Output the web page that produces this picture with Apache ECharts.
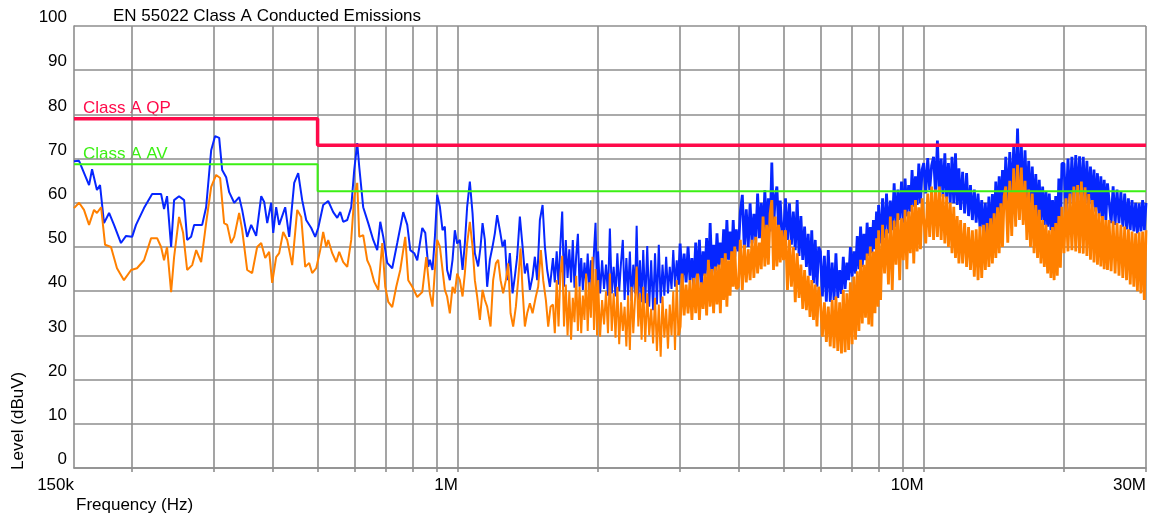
<!DOCTYPE html>
<html>
<head>
<meta charset="utf-8">
<script src="https://cdn.jsdelivr.net/npm/echarts@6/dist/echarts.min.js"></script>
<style>html,body{margin:0;padding:0;background:#fff}#c{width:1154px;height:519px}</style>
</head>
<body>
<div id="c"></div>
<script>
// ---------- text ----------
const titleText = 'EN 55022 Class A Conducted Emissions';
const xAxisName = 'Frequency (Hz)';
const yAxisName = 'Level (dBuV)';

// ---------- axes ----------
const tickLabels = ['150k', '1M', '10M', '30M'];
const tickLabelKHz = [150, 1000, 10000, 30000];
const gridKHz = [200, 300, 400, 500, 600, 700, 800, 900, 1000, 2000, 3000, 4000, 5000, 6000, 7000, 8000, 9000, 10000, 20000, 30000];

// ---------- limit lines ----------
const limitKHz = [150, 500, 500, 30000];
const qpLimit = [79, 79, 73, 73];
const avLimit = [68.7, 68.7, 62.6, 62.6];

// ---------- peak (blue) trace, 150 kHz - 1.58 MHz ----------
const lowPkKHz = [150,153.8,156,161.6,164,168,170.6,174,178.4,182.8,189.2,194,199.9,203.8,212,220.7,230.7,234.1,237.6,242.4,246,252.1,258.5,262.4,267.6,271.6,282.6,288.2,295.5,301.3,307.4,312,318.2,323,331.1,339.3,344.4,353,360.1,369.1,378.4,384,389.8,397.5,401.5,407.4,413.5,419.7,426,434.5,445.4,454.3,463.3,472.6,484.5,494.1,501.5,514,526.9,540.1,551,559.2,567.5,578.9,590.4,599.2,608.2,614.3,626.4,642.2,658.3,671.4,681.5,691.7,705.4,723.1,741.2,763.6,778.8,790.5,806.2,818.2,838.8,851.3,864.1,
870.9,882.3,892.8,902.9,915.1,927.1,937.7,948.4,961.2,974.1,985.3,996.5,1009.9,1023.5,1035.2,1047.1,1061.1,1075.4,1087.7,1105.6,1118.8,1129.9,1142.8,1155.9,1171.4,1187.1,1200.7,1214.4,1230.8,1247.3,1261.6,1276,1293.2,1310.6,1325.5,1340.7,1358.7,1377,1392.7,1408.6,1427.6,1446.8,1463.3,1480.1,1500,1520.2,1537.6,1555.2,1576.1];
const lowPkLevel = [69.4,69.5,67.9,64,67.6,62.9,64,55.4,57.7,55,50.9,52.5,52.3,55,58.8,62,62,58.6,61.5,50,60.6,61.5,60.6,51.6,52.3,55,55,59,71.9,75.1,74.7,67.4,65.8,62.4,60,61.3,58.4,52.3,55,52.5,61.5,60.2,55.4,60,53.2,59,55,57,59,52.3,64.5,66.7,60.6,56.1,54.3,52.3,54.3,59.5,60.4,57.9,56.6,57.9,55.7,56.1,59,67.4,73.5,68.1,59,55.4,51.6,49.3,55.7,52.3,46.4,45.2,50.9,57.9,55,49.3,48.6,47,54.3,53.2,45.5,
47.1,44.8,52.3,61.8,59.1,53.8,54.6,44.8,42.5,47.1,53.8,50.8,51.6,44.8,50.8,59.1,64.8,57.6,48.6,45.6,50.1,55.4,51.6,41.0,47.1,50.1,53.1,57.2,53.8,50.1,51.6,42.5,48.6,39.5,43.3,47.8,56.9,50.1,44.0,46.3,40.3,43.3,47.8,42.5,56.1,59.5,50.1,44.8,41.0];

// ---------- average (orange) trace, 150 kHz - 1.58 MHz ----------
const lowAvKHz = [150,153.8,157.6,161.6,165.6,168,171.5,174.9,180.1,185.5,192,198.9,204.8,212,219.6,226.2,230.7,234.1,237.6,242.4,246,252.1,257.2,262.4,269,274.4,281.2,288.2,295.5,302.8,308.9,315,319.8,326.1,331.1,339.3,344.4,353,361.8,370.9,378.4,385.9,393.6,399.5,407.4,413.5,421.8,430.2,441,452.1,461.1,470.3,479.7,486.8,496.6,506.5,514,521.8,526.9,537.5,548.2,556.4,567.5,578.9,590.4,599.2,608.2,614.3,626.4,639,648.6,661.5,674.8,688.3,698.5,708.9,723.1,737.6,752.3,771.1,782.6,798.3,818.2,838.8,855.5,
870.9,882.3,892.8,902.9,915.1,927.1,937.7,948.4,961.2,974.1,985.3,996.5,1009.9,1023.5,1035.2,1047.1,1061.1,1075.4,1087.7,1100.2,1115,1129.9,1142.8,1155.9,1175.5,1190.6,1206.7,1220.5,1235.1,1251,1267.9,1282.5,1297.7,1314.5,1332.1,1347.3,1363.4,1377,1392.7,1408.6,1427.6,1446.8,1470.6,1487.4,1507.5,1524.7,1545.3,1563,1581.6];
const lowAvLevel = [58.8,60,58.4,55,58.4,57.7,59,50.5,50,45.2,42.5,44.8,45.2,47,52,52,50,47,50,39.8,47.7,56.8,53.2,44.8,45.9,49.3,46.6,55.4,63.6,66.3,65.6,55.4,55,50.9,52.3,57.7,53.9,44.8,44.1,50,50.9,47.5,48.9,41.9,47.7,48.6,53.4,51.6,45.9,58.4,56.8,45.5,46.4,44.1,45.2,49.3,53.4,50,51.6,48.6,46.6,48.9,46.6,45.5,51.6,61.3,64.5,52.3,52.7,47,45.5,42.1,40.3,50.9,41,37.6,36.4,41,44.8,52.3,42.5,41,38.7,39.8,47.7,
39.5,36.5,44.8,51.6,50.1,44.8,40.3,38.8,35.0,41.0,39.5,44.0,42.5,38.8,44.0,50.8,55.7,50.1,42.5,38.8,33.5,40.3,38.0,36.5,32.0,42.5,46.3,47.1,42.5,39.5,42.5,46.3,35.0,32.0,36.5,42.5,49.7,40.3,32.0,35.0,37.3,35.0,38.8,41.0,49.3,42.5,38.0,32.0,36.5];

// ---------- sweep 1.6 MHz - 2.975 MHz (frequencies shared by both traces) ----------
const midKHz = [
1600,1615,1630,1645,1660,1675,1690,1705,1720,1735,1750,1765,1780,1795,1810,1825,1840,1855,1870,1885,1900,1915,1930,1945,1960,1975,1990,
2000,2020,2040,2060,2080,2100,2120,2140,2160,2180,2200,2220,2240,2260,2280,2300,2320,2340,2360,2380,2400,2420,2440,2460,2480,
2500,2525,2550,2575,2600,2625,2650,2675,2700,2725,2750,2775,2800,2825,2850,2875,2900,2925,2950,2975];
const midPkLevel = [
47.5,42.0,49.0,41.5,50.5,58.0,41.0,51.6,43.0,49.5,42.0,51.6,40.8,48.0,53.0,41.0,47.5,40.3,46.5,41.5,48.5,40.0,47.0,41.0,49.0,55.5,39.5,
49.0,39.5,47.0,40.5,46.0,39.0,54.2,39.5,45.5,38.8,48.6,40.0,46.5,51.6,38.0,47.5,39.0,49.0,37.8,46.0,39.5,54.8,38.0,47.0,37.5,
49.3,37.3,50.2,36.5,47.0,35.7,48.6,37.0,50.5,37.3,46.0,39.0,47.8,39.5,45.5,40.5,49.3,41.0,47.0,41.5];
const midAvLevel = [
37.0,30.5,42.5,32.0,44.0,48.0,32.0,41.5,30.0,40.0,29.0,38.5,33.0,43.5,31.0,41.0,30.5,39.0,33.5,44.0,31.0,42.0,34.0,47.8,31.2,45.0,30.0,
42.5,29.7,38.0,32.5,40.0,30.5,44.0,31.0,39.5,29.5,41.0,28.0,37.5,31.0,36.5,27.5,39.0,26.7,41.0,30.5,38.0,45.6,32.0,39.5,29.0,
41.0,28.5,39.5,30.0,36.0,28.2,38.5,26.5,37.0,25.2,38.8,29.5,36.0,27.0,37.0,30.0,40.0,26.7,42.5,30.0];

// ---------- dense sweep 3 MHz - 30 MHz (frequencies shared by both traces) ----------
const highKHz = [
3000,3030,3060,3090,3120,3150,3180,3210,3240,3270,3300,3330,3360,3390,3420,3450,3480,3510,3540,3570,3600,3630,3660,3690,3720,3750,3780,3810,3840,3870,3900,3930,3960,
4000,4040,4080,4120,4160,4200,4240,4280,4320,4360,4400,4440,4480,4520,4560,4600,4640,4680,4720,4760,4800,4840,4880,4920,4960,
5000,5050,5100,5150,5200,5250,5300,5350,5400,5450,5500,5550,5600,5650,5700,5750,5800,5850,5900,5950,
6000,6060,6120,6180,6240,6300,6360,6420,6480,6540,6600,6660,6720,6780,6840,6900,6960,7020,7080,7140,7200,7260,7320,7380,7440,7500,7560,7620,7680,7740,7800,7860,7920,7980,
8000,8080,8160,8240,8320,8400,8480,8560,8640,8720,8800,8880,8960,9040,9120,9200,9280,9360,9440,9520,9600,9680,9760,9840,9920,
10000,10100,10200,10300,10400,10500,10600,10700,10800,10900,11000,11100,11200,11300,11400,11500,11600,11700,11800,11900,
12000,12120,12240,12360,12480,12600,12720,12840,12960,13080,13200,13320,13440,13560,13680,13800,13920,14040,14160,14280,14400,14520,14640,14760,14880,
15000,15150,15300,15450,15600,15750,15900,16050,16200,16350,16500,16650,16800,16950,17100,17250,17400,17550,17700,17850,18000,18150,18300,18450,18600,18750,18900,19050,19200,19350,19500,19650,19800,
20000,20200,20400,20600,20800,21000,21200,21400,21600,21800,22000,22200,22400,22600,22800,23000,23200,23400,23600,23800,24000,24200,24400,24600,24800,
25000,25250,25500,25750,26000,26250,26500,26750,27000,27250,27500,27750,28000,28250,28500,28750,29000,29250,29500,29750,30000];
const highPkLevel = [
50.8,41.8,48.5,42.0,50.1,42.5,47.5,41.0,51.0,42.0,51.6,41.0,49.0,43.5,52.0,42.5,55.4,44.0,50.5,44.5,53.1,45.6,51.0,46.0,54.0,46.5,56.1,47.1,53.5,47.0,56.1,47.8,54.0,
49.0,58.0,61.8,49.5,58.5,50.0,59.9,50.8,57.5,51.5,62.1,52.0,60.0,52.3,62.9,53.1,61.0,53.5,69.1,53.8,61.5,63.7,54.0,60.5,53.5,
52.3,61.0,51.6,59.9,50.5,58.0,49.3,60.6,48.0,57.0,47.1,54.6,45.5,53.0,43.5,53.8,41.8,51.6,41.0,50.0,
49.0,38.8,48.0,37.6,49.3,37.6,46.5,38.0,48.6,38.5,44.8,39.4,47.8,40.5,46.5,42.5,50.0,43.3,49.0,44.0,52.5,45.0,54.6,45.5,53.0,47.0,55.5,48.0,54.5,48.6,56.1,49.5,58.0,50.5,
59.5,50.8,61.0,52.0,62.1,53.1,60.5,53.8,64.4,54.5,63.0,56.1,64.8,55.5,65.5,56.9,64.0,58.0,67.4,59.1,66.0,59.5,68.9,59.9,67.5,
69.0,62.1,70.1,62.9,68.5,70.4,62.1,74.1,62.5,70.0,61.4,71.2,61.0,69.0,60.0,70.4,59.9,71.2,59.5,67.8,
58.4,67.0,57.6,66.7,57.0,64.0,56.1,63.0,55.5,62.1,54.6,60.6,52.5,60.0,51.6,61.4,50.8,62.0,53.8,64.8,55.0,66.0,56.9,67.4,58.5,
70.4,59.9,71.5,61.0,72.7,61.4,76.8,60.6,73.0,60.0,71.9,59.9,69.5,58.5,68.2,57.6,66.5,56.5,65.2,56.1,63.7,55.0,62.5,54.6,62.1,53.8,60.6,52.5,61.5,51.6,65.5,53.8,68.9,
68.9,57.0,70.0,59.9,70.4,60.0,70.8,60.6,70.5,60.0,70.4,59.9,69.5,59.5,68.2,59.1,67.5,58.0,66.7,56.9,66.0,56.5,65.2,56.1,64.4,
64.0,55.4,63.7,55.0,63.0,55.4,62.5,54.6,62.1,54.0,61.0,53.8,60.6,53.5,60.0,53.1,59.9,53.5,60.6,53.8,60.0];
const highAvLevel = [
32.0,44.0,34.5,41.5,35.0,42.5,33.5,43.0,35.0,44.0,33.5,42.0,36.0,44.0,34.5,47.1,36.5,45.0,35.0,45.6,37.0,46.0,35.0,47.5,38.0,48.6,36.5,47.0,39.0,49.0,41.0,50.1,40.5,
41.0,51.6,40.3,50.5,42.0,49.5,42.5,51.6,43.0,52.3,44.0,51.0,45.0,56.9,45.6,55.0,46.0,57.5,60.6,44.8,56.9,45.6,55.0,46.5,53.8,
47.0,53.8,40.3,51.6,41.0,50.0,37.5,48.6,38.5,46.0,36.0,44.8,35.7,43.5,34.2,42.5,33.5,41.5,32.0,41.0,
38.0,29.7,37.5,28.5,36.5,27.5,38.0,27.1,38.8,26.5,37.5,25.9,40.3,26.2,39.5,26.7,42.0,28.0,43.3,29.0,44.5,31.0,47.1,32.7,46.0,34.0,48.5,32.5,50.1,32.0,49.0,35.0,52.0,36.5,
53.8,38.0,55.0,44.0,54.0,41.5,56.9,40.3,56.0,46.0,57.6,42.5,56.5,47.0,58.4,45.0,58.0,48.6,59.5,46.3,60.6,49.0,59.0,49.5,61.0,
61.0,50.8,62.1,52.3,63.7,51.6,63.0,52.3,63.7,51.6,62.0,50.8,61.4,50.0,60.0,48.6,59.1,47.5,57.0,46.3,
56.1,46.3,55.4,45.5,54.5,44.8,53.8,43.3,54.0,42.5,54.6,43.0,55.0,44.8,55.4,45.5,56.5,46.3,57.6,47.5,59.0,48.6,59.9,50.0,61.5,
63.7,51.0,65.0,52.5,67.8,54.6,68.6,56.1,68.0,55.0,65.0,51.6,63.0,50.0,62.1,48.6,59.5,47.5,58.4,46.3,56.1,45.5,55.0,44.0,53.8,43.0,54.5,42.5,55.4,43.5,57.0,45.3,59.1,
48.6,61.0,49.0,62.1,49.3,63.7,49.0,64.0,48.6,64.8,48.5,63.5,48.0,62.0,47.1,60.6,46.5,59.0,46.0,57.6,45.6,57.0,45.0,56.1,44.8,
56.1,44.5,55.8,44.0,55.4,43.5,55.0,43.0,54.6,42.5,54.0,41.5,53.5,41.0,53.1,40.0,53.3,39.5,53.5,38.0,53.8];

// ---------- build ----------
const toHz = k => k * 1000;
const pairs = (fk, lv) => fk.slice(0, Math.min(fk.length, lv.length)).map((f, i) => [toHz(f), lv[i]]);
const pkLowData = pairs(lowPkKHz, lowPkLevel).concat(pairs(midKHz, midPkLevel));
const avLowData = pairs(lowAvKHz, lowAvLevel).concat(pairs(midKHz, midAvLevel));
const pkHighData = [pkLowData[pkLowData.length - 1]].concat(pairs(highKHz, highPkLevel));
const avHighData = [avLowData[avLowData.length - 1]].concat(pairs(highKHz, highAvLevel));
const qpData = pairs(limitKHz, qpLimit);
const avLimData = pairs(limitKHz, avLimit);

const FONT = '"Liberation Sans", Arial, Helvetica, sans-serif';
const GRID = '#8e8e8e';
const RED = '#ff0a4a';
const GREEN = '#3cf014';
const BLUE = '#0626ff';
const ORANGE = '#ff8000';

const labelHz = tickLabelKHz.map(toHz);
function fmtX(v) {
  const i = labelHz.findIndex(f => Math.abs(f - v) / f < 1e-4);
  return i >= 0 ? tickLabels[i] : '';
}

const traceSeries = (name, data, color, width, z) => ({
  type: 'line', name: name, data: data, symbol: 'none', showSymbol: false, silent: true, clip: true,
  lineStyle: {color: color, width: width, join: 'bevel'}, z: z
});

const chart = echarts.init(document.getElementById('c'), null, {renderer: 'canvas'});
chart.setOption({
  animation: false,
  backgroundColor: '#ffffff',
  grid: {left: 74, right: 8, top: 26, bottom: 51, containLabel: false},
  title: {
    text: titleText, left: 113, top: 7, padding: 0,
    textStyle: {fontFamily: FONT, fontSize: 17, fontWeight: 'normal', color: '#000', lineHeight: 18}
  },
  xAxis: {
    type: 'log', logBase: 10,
    min: toHz(150), max: toHz(30000),
    axisLine: {show: true, onZero: false, lineStyle: {color: GRID, width: 1.6}},
    axisTick: {show: true, length: 4, customValues: gridKHz.map(toHz), lineStyle: {color: GRID, width: 1.6}},
    axisLabel: {
      customValues: labelHz, formatter: fmtX,
      align: 'right', margin: 9,
      fontFamily: FONT, fontSize: 17, color: '#000'
    },
    splitLine: {show: true, lineStyle: {color: GRID, width: 1.6}},
    minorTick: {show: false}, minorSplitLine: {show: false}
  },
  yAxis: {
    type: 'value', min: 0, max: 100, interval: 10,
    axisLine: {show: true, lineStyle: {color: GRID, width: 1.6}},
    axisTick: {show: false},
    axisLabel: {fontFamily: FONT, fontSize: 17, color: '#000', margin: 7, verticalAlign: 'bottom'},
    splitLine: {show: true, lineStyle: {color: GRID, width: 1.6}}
  },
  graphic: [
    {type: 'text', x: 83, y: 108, style: {text: 'Class A QP', fill: RED, fontFamily: FONT, fontSize: 17, align: 'left', verticalAlign: 'middle'}},
    {type: 'text', x: 83, y: 154, style: {text: 'Class A AV', fill: GREEN, fontFamily: FONT, fontSize: 17, align: 'left', verticalAlign: 'middle'}},
    {type: 'text', x: 76, y: 505, style: {text: xAxisName, fill: '#000', fontFamily: FONT, fontSize: 17, align: 'left', verticalAlign: 'middle'}},
    {type: 'text', x: 18, y: 470, rotation: Math.PI / 2, style: {text: yAxisName, fill: '#000', fontFamily: FONT, fontSize: 17, align: 'left', verticalAlign: 'middle'}}
  ],
  series: [
    traceSeries('Peak', pkLowData, BLUE, 2, 2),
    traceSeries('Peak (dense)', pkHighData, BLUE, 2.8, 2),
    traceSeries('Average', avLowData, ORANGE, 2, 3),
    traceSeries('Average (dense)', avHighData, ORANGE, 2.8, 3),
    {type: 'line', name: 'Class A AV', data: avLimData, symbol: 'none', showSymbol: false, silent: true, clip: true,
     lineStyle: {color: GREEN, width: 2}, z: 4},
    {type: 'line', name: 'Class A QP', data: qpData, symbol: 'none', showSymbol: false, silent: true, clip: true,
     lineStyle: {color: RED, width: 3.5}, z: 5}
  ]
});
</script>
</body>
</html>
